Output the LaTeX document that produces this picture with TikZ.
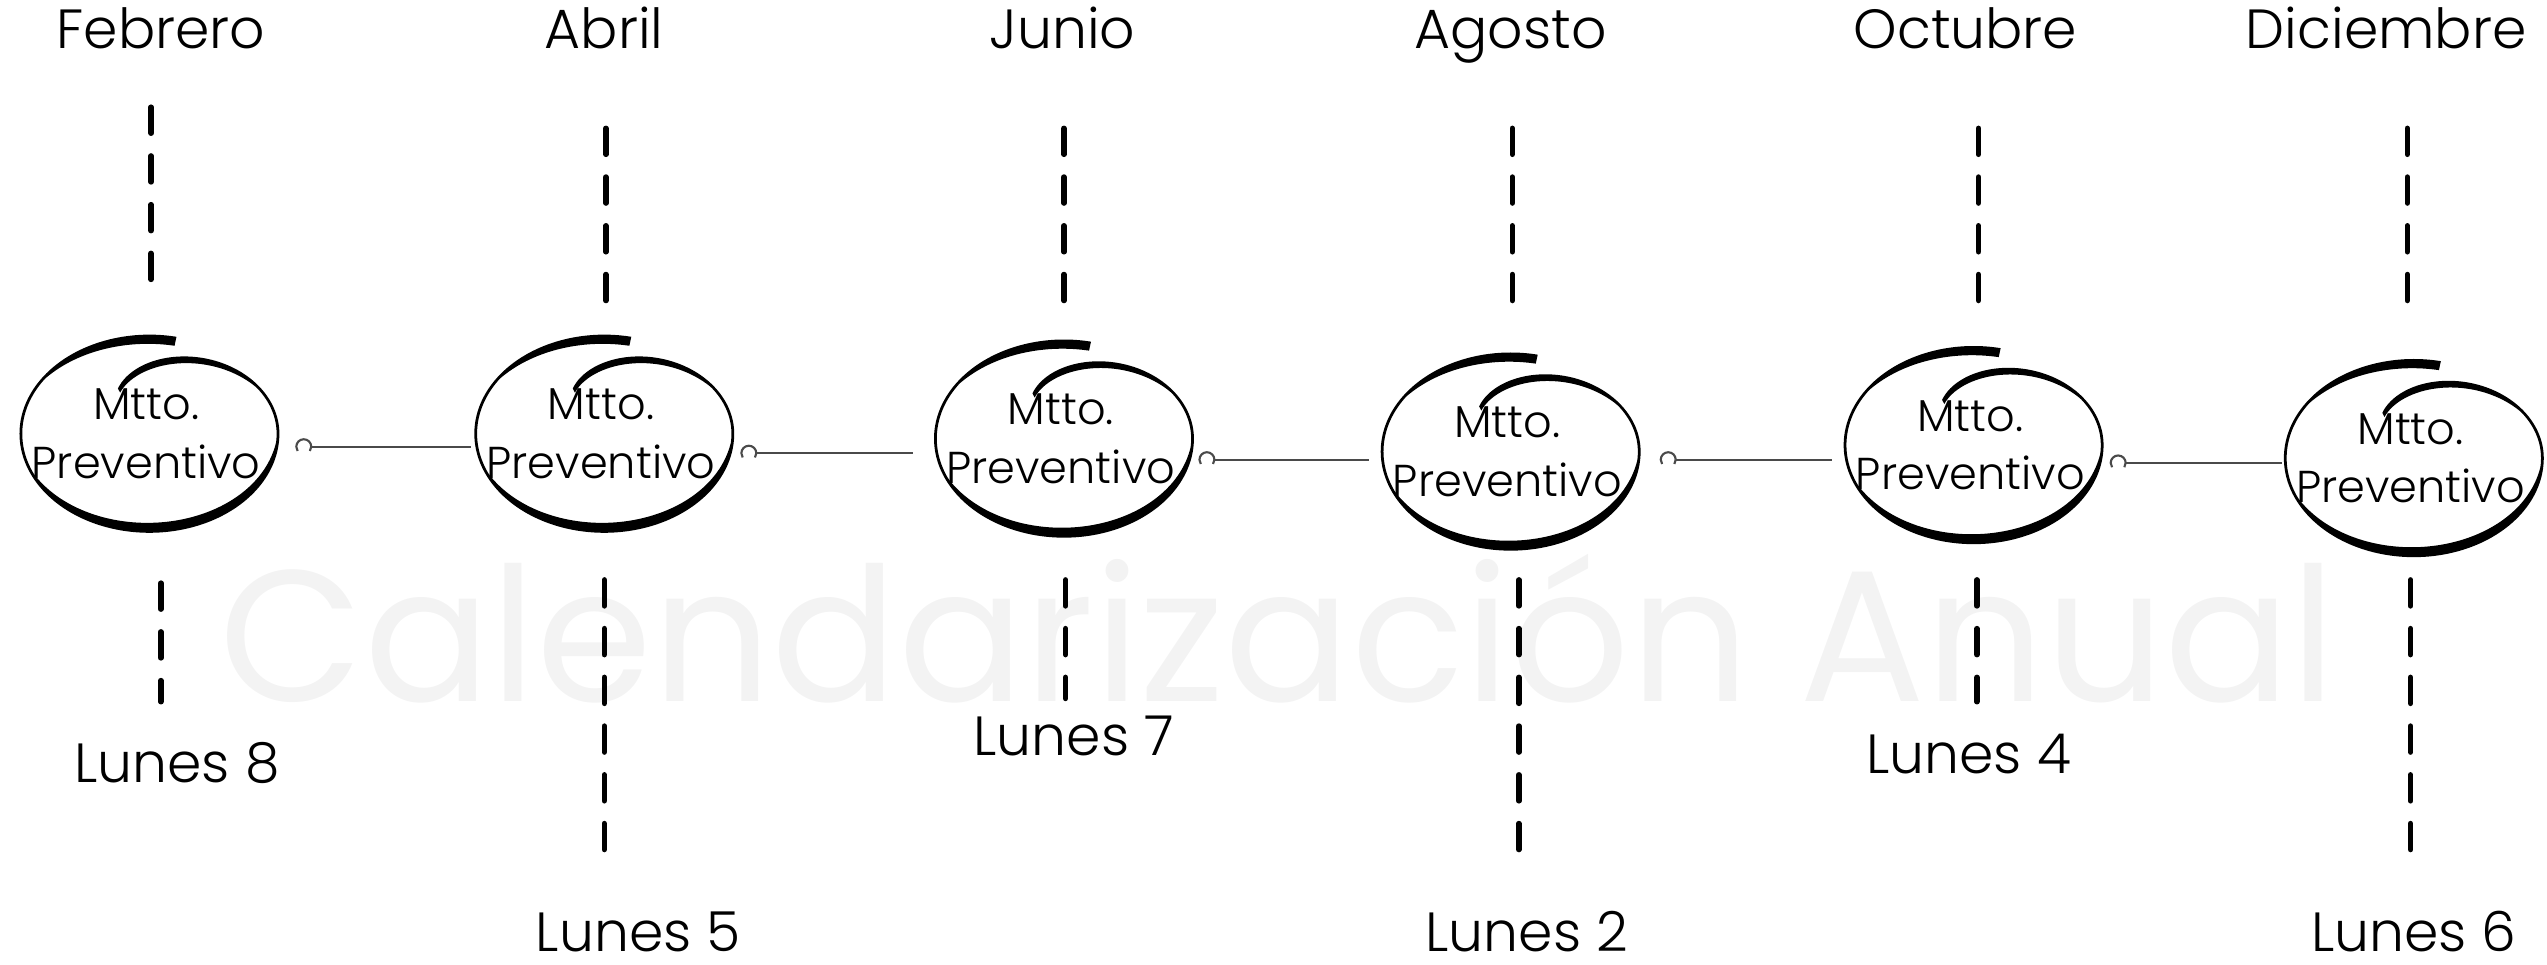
\documentclass[tikz,border=0pt]{standalone}
\usepackage{fontspec}
\setmainfont{Poppins Light}
\newfontfamily\wmfont{Poppins}
\usetikzlibrary{shapes.geometric}
\definecolor{wmgray}{HTML}{F3F3F3}
\definecolor{conngray}{HTML}{4A4A4A}
\newcommand\hcircle[1]{%
\begin{scope}[shift={(#1.center)}]
\fill plot[domain=78:478,samples=150,variable=\t,smooth] ({80*sf(\t)*cos(\t)},{-61*sf(\t)*sin(\t)})
 -- plot[domain=478:78,samples=150,variable=\t,smooth] ({(80*sf(\t)-sw(\t))*cos(\t)},{-(61*sf(\t)-sw(\t))*sin(\t)}) -- cycle;
\end{scope}}
\begin{document}
\begin{tikzpicture}[x=1pt,y=-1pt,
  declare function={sf(\t)=1-0.5*(max(0,(\t-360)/120))^2;
    sw(\t)=1.7+4*max(0,1-((\t-85)/60)^2)+4.5*max(0,1-((\t-280)/75)^2)+2.8*max(0,1-((\t-440)/50)^2);},
  month/.style={anchor=base, inner sep=0, font=\fontsize{34}{40}\selectfont},
  day/.style={anchor=base, inner sep=0, font=\fontsize{34}{40}\selectfont},
  txt/.style={align=center, inner sep=0, font=\fontsize{27.5}{36}\selectfont},
  oval/.style={ellipse, minimum width=160pt, minimum height=122pt, inner sep=0},
  dashln/.style={line width=3.4pt, line cap=round, dash pattern=on 16pt off 14pt},
  conn/.style={draw=conngray, line width=1.4pt},
  knob/.style={draw=conngray, line width=1.3pt}
]
\useasboundingbox (0,0) rectangle (1568,594);
% watermark
\node[anchor=base, inner sep=0, text=wmgray, font=\wmfont\fontsize{115}{115}\selectfont] (wm) at (787,432) {Calendarización Anual};

% ovals
\node[oval] (e1) at (92,267) {};
\node[oval] (e2) at (372,267) {};
\node[oval] (e3) at (655,270) {};
\node[oval] (e4) at (930,278) {};
\node[oval] (e5) at (1215,274) {};
\node[oval] (e6) at (1486,282) {};
\foreach \n in {e1,e2,e3,e4,e5,e6}{\hcircle{\n}}
\foreach \n in {1,...,6}{\node[txt] (t\n) at ([xshift=-2pt]e\n.center) {Mtto.\\Preventivo};}

% months
\node[month] (m1) at (99,30) {Febrero};
\node[month] (m2) at (372,30) {Abril};
\node[month] (m3) at (654,30) {Junio};
\node[month] (m4) at (930,30) {Agosto};
\node[month] (m5) at (1210,30) {Octubre};
\node[month] (m6) at (1469,30) {Diciembre};

% days
\node[day] (d1) at (109,482) {Lunes 8};
\node[day] (d2) at (393,586) {Lunes 5};
\node[day] (d3) at (661,465) {Lunes 7};
\node[day] (d4) at (940,586) {Lunes 2};
\node[day] (d5) at (1212,476) {Lunes 4};
\node[day] (d6) at (1486,586) {Lunes 6};

% dashed guide lines
\draw[dashln] (93,66) -- (93,172);
\draw[dashln] (373,79) -- (373,185);
\draw[dashln] (655,79) -- (655,185);
\draw[dashln] (931,79) -- (931,185);
\draw[dashln] (1218,79) -- (1218,185);
\draw[dashln] (1482,79) -- (1482,185);
\draw[dashln] (99,359) -- (99,432);
\draw[dashln] (372,357) -- (372,530);
\draw[dashln] (656,357) -- (656,430);
\draw[dashln] (935,357) -- (935,530);
\draw[dashln] (1217,357) -- (1217,432);
\draw[dashln] (1484,357) -- (1484,530);

% connectors
\coordinate (a1) at (187,275); \coordinate (b1) at (290,275);
\coordinate (a2) at (461,279); \coordinate (b2) at (562,279);
\coordinate (a3) at (743,283); \coordinate (b3) at (843,283);
\coordinate (a4) at (1027,283); \coordinate (b4) at (1128,283);
\coordinate (a5) at (1304,285); \coordinate (b5) at (1405,285);
\foreach \i in {1,...,5}{
  \draw[knob] ([xshift=4.6pt]a\i) arc[start angle=0, end angle=215, radius=4.6pt];
  \draw[knob] ([xshift=4.6pt]a\i) arc[start angle=0, end angle=-35, radius=4.6pt];
  \draw[conn] ([xshift=4.6pt]a\i) -- (b\i);
}
\end{tikzpicture}
\end{document}
